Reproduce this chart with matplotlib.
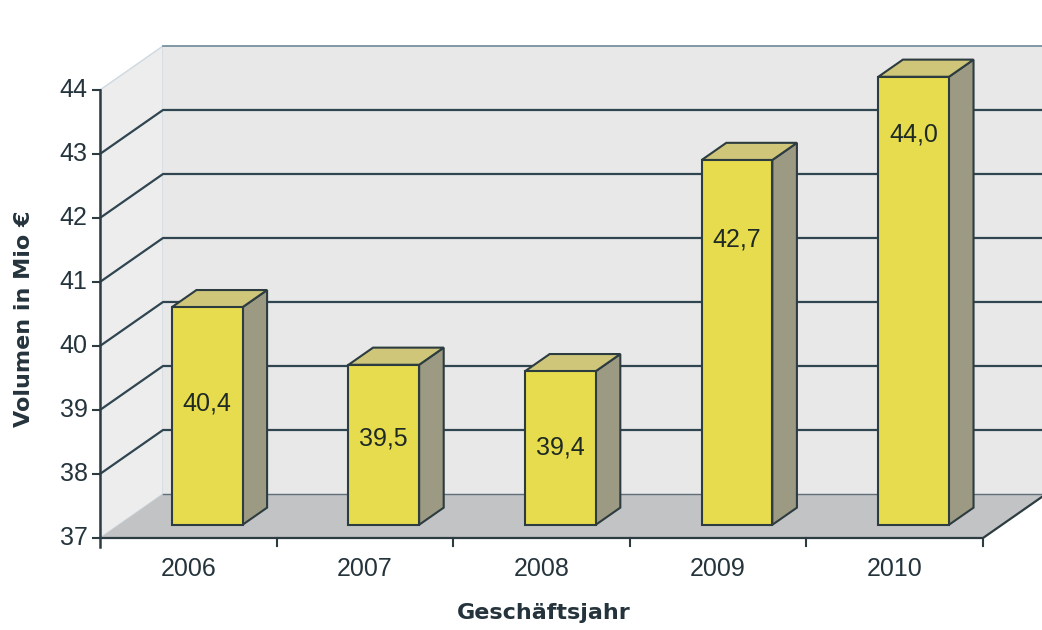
import numpy as np
import matplotlib.pyplot as plt
from matplotlib.patches import Polygon

plt.rcParams['font.family'] = ['Liberation Sans', 'DejaVu Sans']

years = ['2006', '2007', '2008', '2009', '2010']
volumes = [40.4, 39.5, 39.4, 42.7, 44.0]
value_labels = ['40,4', '39,5', '39,4', '42,7', '44,0']
yticks = [37, 38, 39, 40, 41, 42, 43, 44]

# where the value labels sit inside the bars (value units)
label_at = [38.9, 38.35, 38.2, 41.45, 43.1]

ymin, ymax = 37, 44
n = len(years)
ddx, ddy = 0.357, 0.6875   # depth vector of the 3d box, data units
bar_w = 0.4
d0, d1 = 0.3, 0.69         # bar front / back inside the depth

edge = '#2c3c40'
txt = '#25343c'

fig = plt.figure(figsize=(10.42, 6.3), dpi=100)
ax = fig.add_axes([0, 0, 1, 1])
ax.set_xlim(-0.566, 5.334)
ax.set_ylim(35.5625, 45.406)
ax.axis('off')

# walls and floor
ax.add_patch(Polygon([(0, ymin), (0, ymax), (ddx, ymax + ddy), (ddx, ymin + ddy)],
                     facecolor='#ededed', edgecolor='#cdd8df', lw=1, zorder=1))
ax.add_patch(Polygon([(ddx, ymin + ddy), (ddx, ymax + ddy), (n + ddx, ymax + ddy), (n + ddx, ymin + ddy)],
                     facecolor='#e8e8e8', edgecolor='none', zorder=1))
ax.add_patch(Polygon([(0, ymin), (n, ymin), (n + ddx, ymin + ddy), (ddx, ymin + ddy)],
                     facecolor='#c2c3c5', edgecolor='none', zorder=3))

# gridlines
for v in yticks:
    if v == ymax:
        ax.plot([ddx, n + ddx], [v + ddy, v + ddy], color='#6d8796', lw=1.2, zorder=2)
    elif v == ymin:
        ax.plot([ddx, n + ddx], [v + ddy, v + ddy], color='#60707a', lw=1.0, zorder=4)
    else:
        ax.plot([0, ddx, n + ddx], [v, v + ddy, v + ddy], color='#2f4550', lw=1.6, zorder=2)

# axes lines and ticks
ax.plot([0, 0], [ymin - 0.14, ymax], color=edge, lw=1.8, zorder=5)
ax.plot([0, n, n + ddx], [ymin, ymin, ymin + ddy], color=edge, lw=1.6, zorder=5)
for v in yticks:
    ax.plot([-0.04, 0], [v, v], color=edge, lw=1.5, zorder=5)
    ax.text(-0.07, v, str(v), ha='right', va='center', fontsize=18, color=txt)
for k in range(1, n + 1):
    ax.plot([k, k], [ymin, ymin - 0.13], color=edge, lw=1.5, zorder=5)

# bars
sx, sy = (d1 - d0) * ddx, (d1 - d0) * ddy
for i, v in enumerate(volumes):
    x0 = i + 0.5 - bar_w / 2 + d0 * ddx
    x1 = x0 + bar_w
    y0 = ymin + d0 * ddy
    top = v + d0 * ddy
    ax.add_patch(Polygon([(x1, y0), (x1 + sx, y0 + sy), (x1 + sx, top + sy), (x1, top)],
                         facecolor='#9c9a82', edgecolor=edge, lw=1.5, zorder=6))
    ax.add_patch(Polygon([(x0, top), (x1, top), (x1 + sx, top + sy), (x0 + sx, top + sy)],
                         facecolor='#cfc67a', edgecolor=edge, lw=1.5, zorder=6))
    ax.add_patch(Polygon([(x0, y0), (x1, y0), (x1, top), (x0, top)],
                         facecolor='#e7dc4e', edgecolor=edge, lw=1.5, zorder=7))
    ax.text((x0 + x1) / 2, label_at[i] + d0 * ddy, value_labels[i], ha='center', va='center',
            fontsize=18, color='#1f2a24', zorder=8)

for i, y in enumerate(years):
    ax.text(i + 0.5, ymin - 0.48, y, ha='center', va='center', fontsize=18, color=txt)

ax.text(-0.43, 40.42, 'Volumen in Mio €', rotation=90, ha='center', va='center',
        fontsize=16, fontweight='bold', color=txt, family='DejaVu Sans')
ax.text(2.51, 35.83, 'Geschäftsjahr', ha='center', va='center',
        fontsize=16, fontweight='bold', color=txt, family='DejaVu Sans')

fig.savefig('out.png', dpi=100)
